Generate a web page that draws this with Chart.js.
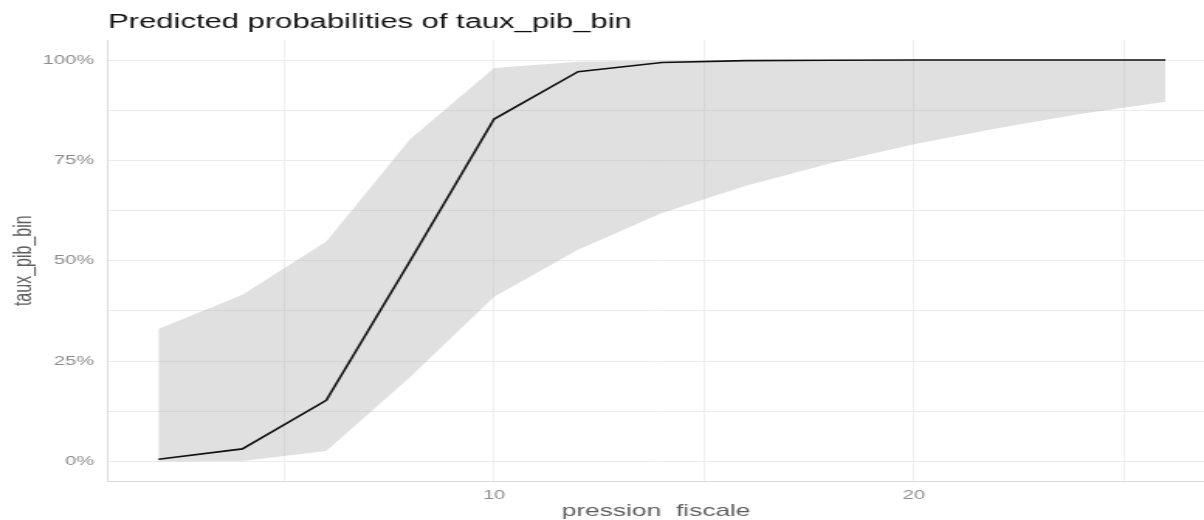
<!DOCTYPE html>
<html>
<head>
<meta charset="utf-8">
<script src="https://cdn.jsdelivr.net/npm/chart.js@4"></script>
<style>
  html, body { margin: 0; padding: 0; background: #ffffff; overflow: hidden; }
  #wrap { width: 777px; height: 520px; transform: scaleX(1.5496); transform-origin: 0 0; }
  canvas { display: block; }
</style>
</head>
<body>
<div id="wrap"><canvas id="c" width="777" height="520"></canvas></div>
<script>
// ---- data ----
const xVals    = [2, 4, 6, 8, 10, 12, 14, 16, 18, 20, 22, 24, 26];
const fitPct   = [0.5, 3.1, 15.2, 50, 85.3, 97.1, 99.4, 99.85, 99.97, 100, 100, 100, 100];
const lowPct   = [0, 0.1, 2.6, 21, 41, 52.7, 61.9, 68.7, 74.2, 79, 83, 86.6, 89.6];
const highPct  = [33, 41.5, 54.8, 80.3, 98, 99.6, 99.9, 100, 100, 100, 100, 100, 100];
const xGridTicks = [5, 10, 15, 20, 25];
const xLabelTicks = [10, 20];
const yGridTicks = [0, 12.5, 25, 37.5, 50, 62.5, 75, 87.5, 100];
const yLabelTicks = [0, 25, 50, 75, 100];
const titleText = 'Predicted probabilities of taux_pib_bin';
const xTitle = 'pression  fiscale';
const yTitle = 'taux_pib_bin';

const pts = (ys) => xVals.map((x, i) => ({ x: x, y: ys[i] }));
const FAM = "'Liberation Sans', Arial, sans-serif";

new Chart(document.getElementById('c'), {
  type: 'line',
  data: {
    datasets: [
      { data: pts(fitPct), borderColor: '#111111', borderWidth: 1.6, pointRadius: 0, fill: false, tension: 0 },
      { data: pts(highPct), borderWidth: 0, borderColor: 'rgba(0,0,0,0)', backgroundColor: 'rgba(153,153,153,0.3)', pointRadius: 0, fill: '+1', tension: 0 },
      { data: pts(lowPct), borderWidth: 0, borderColor: 'rgba(0,0,0,0)', pointRadius: 0, fill: false, tension: 0 }
    ]
  },
  options: {
    responsive: false,
    animation: false,
    devicePixelRatio: 1,
    layout: { padding: 0 },
    plugins: {
      legend: { display: false },
      tooltip: { enabled: false },
      title: {
        display: true, text: titleText, align: 'start', fullSize: false,
        color: '#111111',
        font: { family: FAM, size: 20, weight: 'normal', lineHeight: 1.2 },
        padding: { top: 10, bottom: 6 }
      }
    },
    scales: {
      x: {
        type: 'linear', min: 0.8, max: 26.92,
        afterBuildTicks: (s) => { s.ticks = xGridTicks.map(v => ({ value: v })); },
        grid: { color: '#efefef', lineWidth: 1, drawTicks: true, tickLength: 6, tickColor: 'rgba(0,0,0,0)' },
        border: { display: true, color: '#dcdcdc', width: 1 },
        ticks: {
          autoSkip: false, maxRotation: 0, padding: 0, color: '#8c8c8c',
          font: { family: FAM, size: 13, lineHeight: 1.2 },
          callback: (v) => xLabelTicks.includes(v) ? String(v) : ''
        },
        title: {
          display: true, text: xTitle, color: '#5e5e5e',
          font: { family: FAM, size: 17, lineHeight: 1 },
          padding: { top: 0, bottom: 0 }
        }
      },
      y: {
        type: 'linear', min: -5, max: 105,
        afterBuildTicks: (s) => { s.ticks = yGridTicks.map(v => ({ value: v })); },
        grid: { color: '#ececec', lineWidth: 1, drawTicks: true, tickLength: 9, tickColor: 'rgba(0,0,0,0)' },
        border: { display: true, color: '#dcdcdc', width: 1 },
        ticks: {
          autoSkip: false, padding: 0, color: '#8c8c8c',
          font: { family: FAM, size: 13, lineHeight: 1.2 },
          callback: (v) => yLabelTicks.includes(v) ? v + '%' : ''
        },
        title: {
          display: true, text: yTitle, color: '#5e5e5e',
          font: { family: FAM, size: 16, lineHeight: 1 },
          padding: { top: 7.5, bottom: 4 }
        }
      }
    }
  }
});
</script>
</body>
</html>
